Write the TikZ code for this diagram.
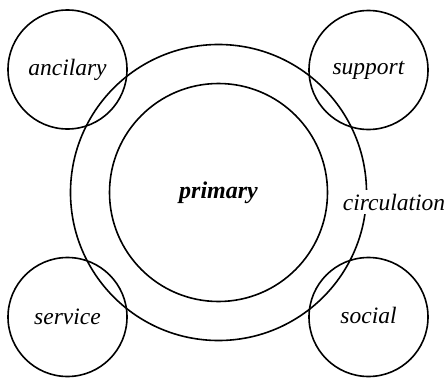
\documentclass[tikz,border=0pt]{standalone}
\usepackage{fontspec}
\setmainfont{Liberation Serif}
\usetikzlibrary{positioning}
\begin{document}
\begin{tikzpicture}[x=1pt,y=-1pt,
  ring/.style={draw,circle,line width=1.6pt,inner sep=0pt},
  zone/.style={ring,minimum size=119pt,font=\fontsize{23.5}{26}\selectfont\itshape}]
  \useasboundingbox (0,0) rectangle (447,380);
  % circulation ring round the primary space
  \node[ring,minimum size=296pt](outer)at(218.5,192.5){};
  \node[ring,minimum size=218pt,font=\fontsize{24}{27}\selectfont\bfseries\itshape](inner)at(218.5,192.5){primary};
  \node[fill=white,inner xsep=1pt,inner ysep=4pt,font=\fontsize{23.5}{26}\selectfont\itshape](circ)at(394,202){circulation};
  % the four outer zones
  \node[zone](anc)at(67.5,69.5){ancilary};
  \node[zone](sup)at(368.5,70){support};
  \node[zone](ser)at(67.5,317){\raisebox{-4pt}{service}};
  \node[zone](soc)at(368.5,317){\raisebox{3pt}{social}};
\end{tikzpicture}
\end{document}
